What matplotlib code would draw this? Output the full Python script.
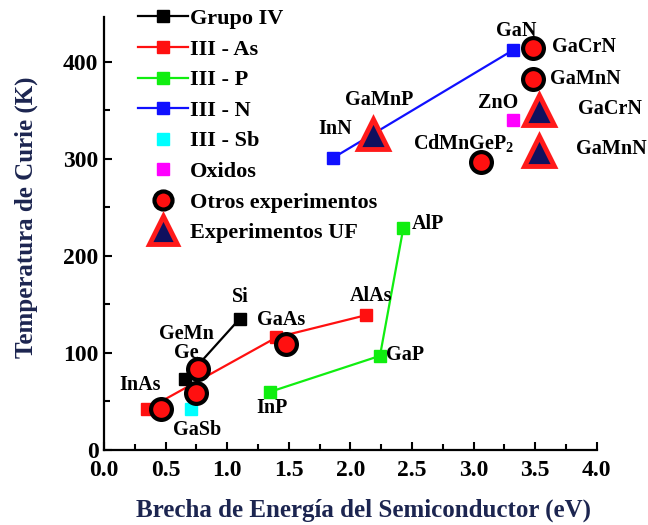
import matplotlib.pyplot as plt
from matplotlib.lines import Line2D

plt.rcParams['font.family'] = ['Liberation Serif', 'DejaVu Serif']
plt.rcParams['font.weight'] = 'bold'
plt.rcParams['mathtext.fontset'] = 'custom'
plt.rcParams['mathtext.bf'] = 'Liberation Serif:bold'
plt.rcParams['mathtext.rm'] = 'Liberation Serif:bold'

# band gap (eV) vs Curie temperature (K)
grupo_iv_gap = [0.66, 1.10]
grupo_iv_tc = [73, 135]
iii_as_gap = [0.35, 1.40, 2.13]
iii_as_tc = [42, 116, 139]
iii_p_gap = [1.35, 2.24, 2.43]
iii_p_tc = [60, 97, 229]
iii_n_gap = [1.86, 3.32]
iii_n_tc = [301, 412]
iii_sb_gap = [0.71]
iii_sb_tc = [42]
oxidos_gap = [3.32]
oxidos_tc = [340]
otros_gap = [0.46, 0.75, 0.76, 1.48, 3.48, 3.48, 3.06]
otros_tc = [42, 59, 83, 109, 414, 382, 297]
uf_gap = [2.18, 3.53, 3.53]
uf_tc = [326, 350, 308]

# material names and where they are written
etiquetas = ['Si', 'GeMn', 'Ge', 'InAs', 'GaSb', 'GaAs', 'AlAs', 'InP', 'GaP', 'AlP',
             'InN', 'GaMnP', 'GaN', 'GaCrN', 'GaMnN', 'ZnO', 'GaCrN',
             r'CdMnGeP$_{\mathbf{2}}$', 'GaMnN']
etiq_x = [1.11, 0.67, 0.665, 0.29, 0.755, 1.435, 2.165, 1.36, 2.44, 2.63,
          1.88, 2.23, 3.35, 3.90, 3.91, 3.195, 4.11, 2.92, 4.12]
etiq_y = [158, 120, 100, 67, 21, 134, 159, 43, 98, 233,
          331, 361, 432, 415, 382, 357, 351, 315, 310]

fig = plt.figure(figsize=(6.48, 5.25), dpi=100)
ax = fig.add_axes([0.1605, 0.1429, 0.7605, 0.8245])

sq = dict(marker='s', markersize=8.5, linewidth=1.6)
ax.plot(grupo_iv_gap, grupo_iv_tc, color='black', **sq)
ax.plot(iii_as_gap, iii_as_tc, color='#ff1010', **sq)
ax.plot(iii_p_gap, iii_p_tc, color='#10ee10', **sq)
ax.plot(iii_n_gap, iii_n_tc, color='#1010ff', **sq)
ax.plot(iii_sb_gap, iii_sb_tc, color='#00ffff', linestyle='none', marker='s', markersize=8.5)
ax.plot(oxidos_gap, oxidos_tc, color='#ff00ff', linestyle='none', marker='s', markersize=8.5)
ax.plot(otros_gap, otros_tc, linestyle='none', marker='o', markersize=15,
        markerfacecolor='#ff1010', markeredgecolor='black', markeredgewidth=3)
ax.plot(uf_gap, uf_tc, linestyle='none', marker='^', markersize=22,
        markerfacecolor='#10105e', markeredgecolor='#ff1a1a', markeredgewidth=3.5)

for t, x, y in zip(etiquetas, etiq_x, etiq_y):
    ax.text(x, y, t, ha='center', va='center', fontsize=14.5, fontweight='bold')

ax.set_xlim(0, 4.0)
ax.set_ylim(0, 446)
ax.set_xticks([0.0, 0.5, 1.0, 1.5, 2.0, 2.5, 3.0, 3.5, 4.0])
ax.set_xticks([0.25, 0.75, 1.25, 1.75, 2.25, 2.75, 3.25, 3.75], minor=True)
ax.set_yticks([0, 100, 200, 300, 400])
ax.set_yticks([50, 150, 250, 350], minor=True)
ax.set_xticklabels(['0.0', '0.5', '1.0', '1.5', '2.0', '2.5', '3.0', '3.5', '4.0'])
ax.tick_params(which='both', direction='in', width=1.5, labelsize=17)
ax.tick_params(which='major', length=6)
ax.tick_params(which='minor', length=4)
ax.tick_params(axis='x', pad=7)
ax.tick_params(axis='y', pad=4)
for s in ['top', 'right']:
    ax.spines[s].set_visible(False)
for s in ['left', 'bottom']:
    ax.spines[s].set_linewidth(1.6)

ax.set_xlabel('Brecha de Energía del Semiconductor (eV)', fontsize=18,
              fontweight='bold', color='#1c2550')
ax.set_ylabel('Temperatura de Curie (K)', fontsize=18,
              fontweight='bold', color='#1c2550')
ax.xaxis.set_label_coords(0.527, -0.112)
ax.yaxis.set_label_coords(-0.134, 0.537)

handles = [
    Line2D([], [], color='black', marker='s', markersize=8.5, linewidth=1.6),
    Line2D([], [], color='#ff1010', marker='s', markersize=8.5, linewidth=1.6),
    Line2D([], [], color='#10ee10', marker='s', markersize=8.5, linewidth=1.6),
    Line2D([], [], color='#1010ff', marker='s', markersize=8.5, linewidth=1.6),
    Line2D([], [], color='#00ffff', marker='s', markersize=8.5, linestyle='none'),
    Line2D([], [], color='#ff00ff', marker='s', markersize=8.5, linestyle='none'),
    Line2D([], [], linestyle='none', marker='o', markersize=13,
           markerfacecolor='#ff1010', markeredgecolor='black', markeredgewidth=3),
    Line2D([], [], linestyle='none', marker='^', markersize=20,
           markerfacecolor='#10105e', markeredgecolor='#ff1a1a', markeredgewidth=3.5),
]
nombres = ['Grupo IV', 'III - As', 'III - P', 'III - N', 'III - Sb', 'Oxidos',
           'Otros experimentos', 'Experimentos UF']
ax.legend(handles, nombres, loc='upper left', bbox_to_anchor=(0.05, 1.04),
          frameon=False, fontsize=16, handlelength=2.25, handletextpad=0.1,
          labelspacing=0.45, borderaxespad=0)

fig.savefig('out.png', dpi=100)
